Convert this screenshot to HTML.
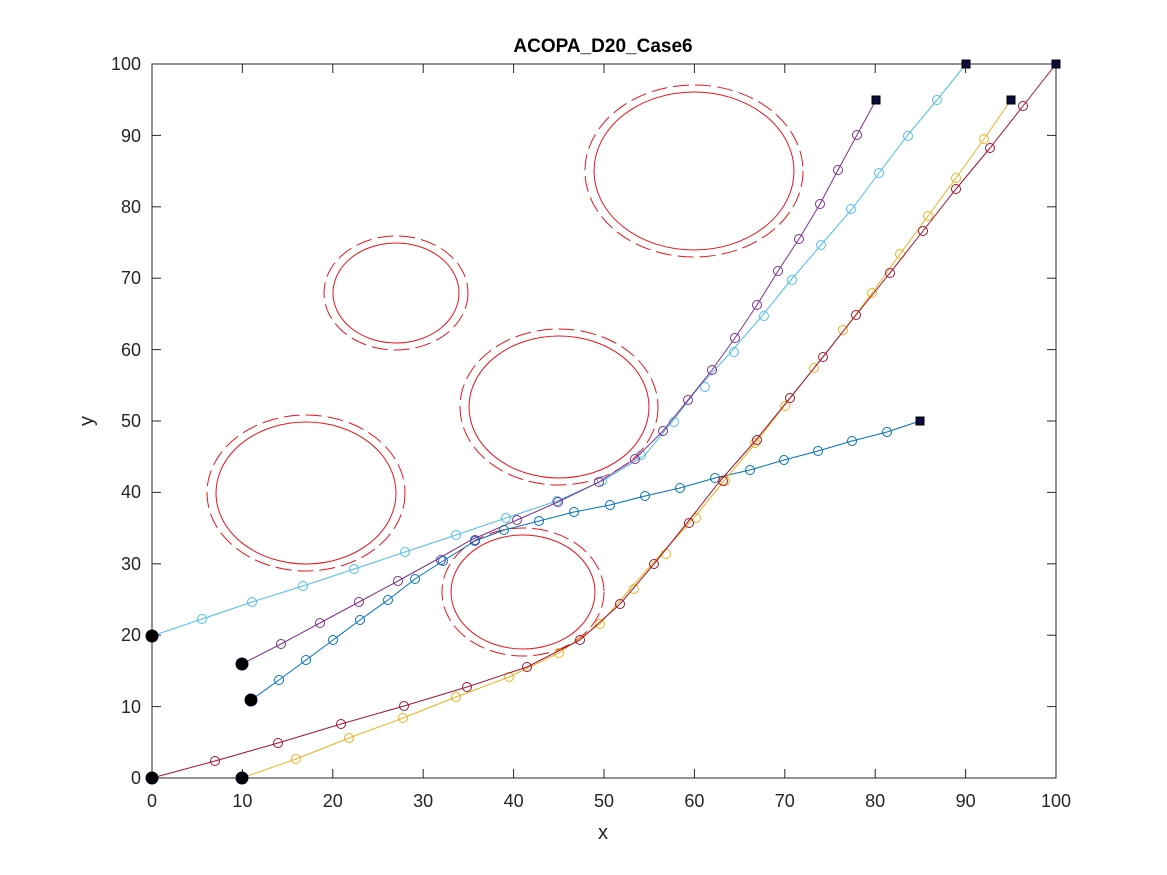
<!DOCTYPE html>
<html><head><meta charset="utf-8"><style>
html,body{margin:0;padding:0;background:#fff;}
svg{display:block;font-family:"Liberation Sans",sans-serif;}
</style></head><body>
<svg width="1167" height="875" viewBox="0 0 1167 875" xmlns="http://www.w3.org/2000/svg">
<rect width="1167" height="875" fill="#fff"/>
<text x="603" y="52" text-anchor="middle" font-size="19" font-weight="bold" fill="#000">ACOPA_D20_Case6</text>
<!-- axes box -->
<rect x="152" y="64" width="904" height="714" fill="none" stroke="#262626" stroke-width="1"/>
<g stroke="#262626" stroke-width="1">
<line x1="152" y1="778" x2="152" y2="769"/><line x1="242.4" y1="778" x2="242.4" y2="769"/><line x1="332.8" y1="778" x2="332.8" y2="769"/><line x1="423.2" y1="778" x2="423.2" y2="769"/><line x1="513.6" y1="778" x2="513.6" y2="769"/><line x1="604" y1="778" x2="604" y2="769"/><line x1="694.4" y1="778" x2="694.4" y2="769"/><line x1="784.8" y1="778" x2="784.8" y2="769"/><line x1="875.2" y1="778" x2="875.2" y2="769"/><line x1="965.6" y1="778" x2="965.6" y2="769"/>
<line x1="242.4" y1="64" x2="242.4" y2="73"/><line x1="332.8" y1="64" x2="332.8" y2="73"/><line x1="423.2" y1="64" x2="423.2" y2="73"/><line x1="513.6" y1="64" x2="513.6" y2="73"/><line x1="604" y1="64" x2="604" y2="73"/><line x1="694.4" y1="64" x2="694.4" y2="73"/><line x1="784.8" y1="64" x2="784.8" y2="73"/><line x1="875.2" y1="64" x2="875.2" y2="73"/><line x1="965.6" y1="64" x2="965.6" y2="73"/>
<line x1="152" y1="706.6" x2="161" y2="706.6"/><line x1="152" y1="635.2" x2="161" y2="635.2"/><line x1="152" y1="563.8" x2="161" y2="563.8"/><line x1="152" y1="492.4" x2="161" y2="492.4"/><line x1="152" y1="421" x2="161" y2="421"/><line x1="152" y1="349.6" x2="161" y2="349.6"/><line x1="152" y1="278.2" x2="161" y2="278.2"/><line x1="152" y1="206.8" x2="161" y2="206.8"/><line x1="152" y1="135.4" x2="161" y2="135.4"/>
<line x1="1056" y1="706.6" x2="1047" y2="706.6"/><line x1="1056" y1="635.2" x2="1047" y2="635.2"/><line x1="1056" y1="563.8" x2="1047" y2="563.8"/><line x1="1056" y1="492.4" x2="1047" y2="492.4"/><line x1="1056" y1="421" x2="1047" y2="421"/><line x1="1056" y1="349.6" x2="1047" y2="349.6"/><line x1="1056" y1="278.2" x2="1047" y2="278.2"/><line x1="1056" y1="206.8" x2="1047" y2="206.8"/><line x1="1056" y1="135.4" x2="1047" y2="135.4"/>
</g>
<g font-size="18" fill="#262626" text-anchor="middle">
<text x="152" y="807">0</text><text x="242.4" y="807">10</text><text x="332.8" y="807">20</text><text x="423.2" y="807">30</text><text x="513.6" y="807">40</text><text x="604" y="807">50</text><text x="694.4" y="807">60</text><text x="784.8" y="807">70</text><text x="875.2" y="807">80</text><text x="965.6" y="807">90</text><text x="1056" y="807">100</text>
<text x="603" y="839" font-size="20">x</text>
</g>
<g font-size="18" fill="#262626" text-anchor="end">
<text x="141" y="784">0</text><text x="141" y="713">10</text><text x="141" y="641">20</text><text x="141" y="570">30</text><text x="141" y="498">40</text><text x="141" y="427">50</text><text x="141" y="356">60</text><text x="141" y="284">70</text><text x="141" y="213">80</text><text x="141" y="142">90</text><text x="141" y="70">100</text>
</g>
<text x="93" y="421" font-size="20" fill="#262626" text-anchor="middle" transform="rotate(-90 93 421)">y</text>
<!-- obstacles -->
<g fill="none" stroke="#e8141c" stroke-width="1">
<ellipse cx="306" cy="493" rx="90" ry="71"/>
<ellipse cx="306" cy="493" rx="99" ry="78" stroke-dasharray="16,6"/>
<ellipse cx="396" cy="293" rx="63" ry="50"/>
<ellipse cx="396" cy="293" rx="72" ry="57" stroke-dasharray="16,6"/>
<ellipse cx="559" cy="407" rx="90" ry="71"/>
<ellipse cx="559" cy="407" rx="99" ry="78" stroke-dasharray="16,6"/>
<ellipse cx="523" cy="592" rx="72" ry="57"/>
<ellipse cx="523" cy="592" rx="81" ry="64" stroke-dasharray="16,6"/>
<ellipse cx="694" cy="171" rx="100" ry="79"/>
<ellipse cx="694" cy="171" rx="109" ry="86" stroke-dasharray="16,6"/>
</g>
<!-- series -->
<g fill="none" stroke-width="1">
<g stroke="#4DBEEE">
<polyline points="152,636 202,619 252,602 303,586 354,569 405,552 456,535 506,518 557,501 604,480 645,455 672,422 699,387 731,352 762,316 791,280 821,245 852,209 879,173 907,136 937,100 966,64"/>
<circle cx="202" cy="619" r="4.5"/><circle cx="252" cy="602" r="4.5"/><circle cx="303" cy="586" r="4.5"/><circle cx="354" cy="569" r="4.5"/><circle cx="405" cy="552" r="4.5"/><circle cx="456" cy="535" r="4.5"/><circle cx="506" cy="518" r="4.5"/><circle cx="557" cy="501" r="4.5"/><circle cx="602" cy="481" r="4.5"/><circle cx="641" cy="455" r="4.5"/><circle cx="674" cy="422" r="4.5"/><circle cx="705" cy="387" r="4.5"/><circle cx="734" cy="352" r="4.5"/><circle cx="764" cy="316" r="4.5"/><circle cx="792" cy="280" r="4.5"/><circle cx="821" cy="245" r="4.5"/><circle cx="851" cy="209" r="4.5"/><circle cx="879" cy="173" r="4.5"/><circle cx="908" cy="136" r="4.5"/><circle cx="937" cy="100" r="4.5"/>
</g>
<g stroke="#7E2F8E">
<polyline points="242,664 281,644 320,623 359,602 398,581 436,560 471,540 517,520 558,502 599,482 635,459 663,431 688,400 712,370 735,338 757,305 778,271 799,239 820,204 838,170 857,135 876,100"/>
<circle cx="281" cy="644" r="4.5"/><circle cx="320" cy="623" r="4.5"/><circle cx="359" cy="602" r="4.5"/><circle cx="398" cy="581" r="4.5"/><circle cx="441" cy="560" r="4.5"/><circle cx="475" cy="540" r="4.5"/><circle cx="517" cy="520" r="4.5"/><circle cx="558" cy="502" r="4.5"/><circle cx="599" cy="482" r="4.5"/><circle cx="635" cy="459" r="4.5"/><circle cx="663" cy="431" r="4.5"/><circle cx="688" cy="400" r="4.5"/><circle cx="712" cy="370" r="4.5"/><circle cx="735" cy="338" r="4.5"/><circle cx="757" cy="305" r="4.5"/><circle cx="778" cy="271" r="4.5"/><circle cx="799" cy="239" r="4.5"/><circle cx="820" cy="204" r="4.5"/><circle cx="838" cy="170" r="4.5"/><circle cx="857" cy="135" r="4.5"/>
</g>
<g stroke="#0072BD">
<polyline points="251,700 279,680 306,660 333,640 360,620 388,600 415,579 443,561 475,541 504,530 539,521 574,512 610,505 645,496 680,488 715,478 750,470 784,460 818,451 852,441 887,432 920,421"/>
<circle cx="279" cy="680" r="4.5"/><circle cx="306" cy="660" r="4.5"/><circle cx="333" cy="640" r="4.5"/><circle cx="360" cy="620" r="4.5"/><circle cx="388" cy="600" r="4.5"/><circle cx="415" cy="579" r="4.5"/><circle cx="443" cy="561" r="4.5"/><circle cx="475" cy="541" r="4.5"/><circle cx="504" cy="530" r="4.5"/><circle cx="539" cy="521" r="4.5"/><circle cx="574" cy="512" r="4.5"/><circle cx="610" cy="505" r="4.5"/><circle cx="645" cy="496" r="4.5"/><circle cx="680" cy="488" r="4.5"/><circle cx="715" cy="478" r="4.5"/><circle cx="750" cy="470" r="4.5"/><circle cx="784" cy="460" r="4.5"/><circle cx="818" cy="451" r="4.5"/><circle cx="852" cy="441" r="4.5"/><circle cx="887" cy="432" r="4.5"/>
</g>
<g stroke="#EDB120">
<polyline points="242,778 296,759 349,738 403,718 456,697 509,677 559,653 600,624 630,589 661,554 694,518 724,481 754,445 784,406 814,368 844,330 872,293 900,254 928,216 956,178 984,139 1011,100"/>
<circle cx="296" cy="759" r="4.5"/><circle cx="349" cy="738" r="4.5"/><circle cx="403" cy="718" r="4.5"/><circle cx="456" cy="697" r="4.5"/><circle cx="509" cy="677" r="4.5"/><circle cx="559" cy="653" r="4.5"/><circle cx="600" cy="624" r="4.5"/><circle cx="634" cy="589" r="4.5"/><circle cx="666" cy="554" r="4.5"/><circle cx="696" cy="518" r="4.5"/><circle cx="725" cy="481" r="4.5"/><circle cx="755" cy="443" r="4.5"/><circle cx="785" cy="406" r="4.5"/><circle cx="814" cy="368" r="4.5"/><circle cx="843" cy="330" r="4.5"/><circle cx="872" cy="293" r="4.5"/><circle cx="900" cy="254" r="4.5"/><circle cx="928" cy="216" r="4.5"/><circle cx="956" cy="178" r="4.5"/><circle cx="984" cy="139" r="4.5"/>
</g>
<g stroke="#A2142F">
<polyline points="152,778 215,761 278,743 341,724 404,706 467,687 527,667 580,640 620,604 654,564 687,523 720,481 756,440 790,398 823,357 856,315 890,273 923,231 956,189 990,148 1023,106 1056,64"/>
<circle cx="215" cy="761" r="4.5"/><circle cx="278" cy="743" r="4.5"/><circle cx="341" cy="724" r="4.5"/><circle cx="404" cy="706" r="4.5"/><circle cx="467" cy="687" r="4.5"/><circle cx="527" cy="667" r="4.5"/><circle cx="580" cy="640" r="4.5"/><circle cx="620" cy="604" r="4.5"/><circle cx="654" cy="564" r="4.5"/><circle cx="689" cy="523" r="4.5"/><circle cx="723" cy="481" r="4.5"/><circle cx="757" cy="440" r="4.5"/><circle cx="790" cy="398" r="4.5"/><circle cx="823" cy="357" r="4.5"/><circle cx="856" cy="315" r="4.5"/><circle cx="890" cy="273" r="4.5"/><circle cx="923" cy="231" r="4.5"/><circle cx="956" cy="189" r="4.5"/><circle cx="990" cy="148" r="4.5"/><circle cx="1023" cy="106" r="4.5"/>
</g>
</g>
<!-- start markers -->
<g fill="#000" stroke="#000020">
<circle cx="152" cy="636" r="6"/><circle cx="242" cy="664" r="6"/><circle cx="251" cy="700" r="6"/><circle cx="152" cy="778" r="6"/><circle cx="242" cy="778" r="6"/>
</g>
<!-- end markers -->
<g fill="#0a0a3c" stroke="#000">
<rect x="872" y="96" width="8" height="8"/><rect x="962" y="60" width="8" height="8"/><rect x="1007" y="96" width="8" height="8"/><rect x="1052" y="60" width="8" height="8"/><rect x="916" y="417" width="8" height="8"/>
</g>
</svg>
</body></html>
